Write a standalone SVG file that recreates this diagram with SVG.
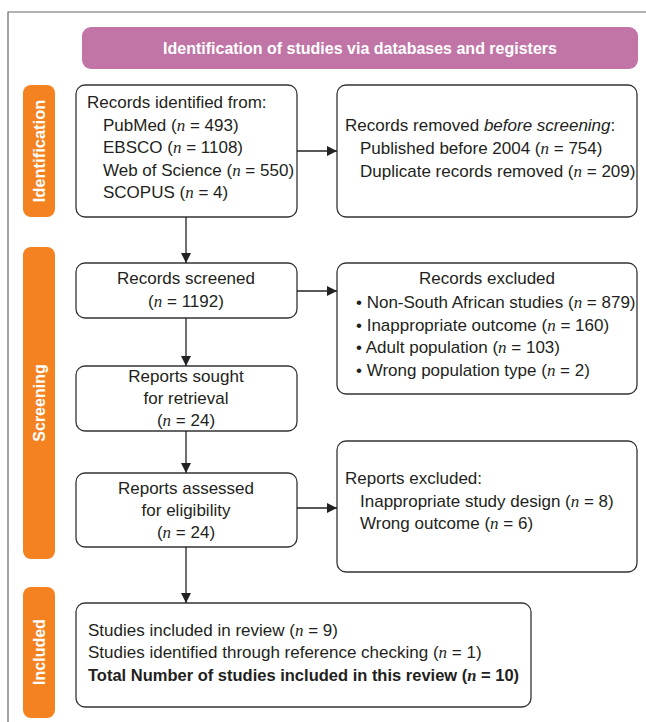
<svg xmlns="http://www.w3.org/2000/svg" width="646" height="722" viewBox="0 0 646 722">
<defs>
<style>
.t{font-family:"Liberation Sans",Arial,sans-serif;font-size:17px;fill:#231f20}
.n{font-family:"Liberation Serif","Times New Roman",serif;font-style:italic}
.box{fill:#fff;stroke:#333;stroke-width:1.3}
.tab{fill:#f58220}
.tabt{font-family:"Liberation Sans",Arial,sans-serif;font-size:16px;font-weight:bold;fill:#fff}
.ln{stroke:#222;stroke-width:1.3;fill:none}
.c{text-anchor:middle}
</style>
<marker id="ah" viewBox="0 0 10 10" refX="10" refY="5" markerWidth="10" markerHeight="10" markerUnits="userSpaceOnUse" orient="auto">
<path d="M0,0 L10,5 L0,10 Z" fill="#222"/>
</marker>
</defs>
<rect width="646" height="722" fill="#fff"/>
<g id="frame">
<path d="M8,722 L8,12 L646,12" stroke="#666" stroke-width="1.2" fill="none"/>
</g>
<g id="banner">
<rect x="82" y="27" width="556" height="42" rx="9" fill="#c075a6"/>
<text x="360" y="54" class="c" style="font-family:'Liberation Sans',Arial,sans-serif;font-size:16px;font-weight:bold;fill:#fff">Identification of studies via databases and registers</text>
</g>
<g id="tab-identification">
<rect class="tab" x="23" y="85" width="32" height="132" rx="8"/>
<text class="tabt c" transform="translate(45,151) rotate(-90)" style="font-size:16.5px">Identification</text>
</g>
<g id="tab-screening">
<rect class="tab" x="23" y="247" width="32" height="312" rx="8"/>
<text class="tabt c" transform="translate(45,403) rotate(-90)">Screening</text>
</g>
<g id="tab-included">
<rect class="tab" x="23" y="587" width="32" height="131" rx="8"/>
<text class="tabt c" transform="translate(45,652) rotate(-90)">Included</text>
</g>
<g id="records-identified">
<rect class="box" x="76" y="85" width="221" height="132" rx="9"/>
<text class="t" x="87" y="108">Records identified from:</text>
<text class="t" x="103" y="131">PubMed (<tspan class="n">n</tspan> = 493)</text>
<text class="t" x="103" y="153">EBSCO (<tspan class="n">n</tspan> = 1108)</text>
<text class="t" x="103" y="176">Web of Science (<tspan class="n">n</tspan> = 550)</text>
<text class="t" x="103" y="198">SCOPUS (<tspan class="n">n</tspan> = 4)</text>
</g>
<g id="records-removed">
<rect class="box" x="337" y="85" width="300" height="132" rx="9"/>
<text class="t" x="345" y="131">Records removed <tspan font-style="italic">before screening</tspan>:</text>
<text class="t" x="360" y="154">Published before 2004 (<tspan class="n">n</tspan> = 754)</text>
<text class="t" x="360" y="177">Duplicate records removed (<tspan class="n">n</tspan> = 209)</text>
</g>
<g id="records-screened">
<rect class="box" x="76" y="263" width="221" height="55" rx="9"/>
<text class="t c" x="186" y="284">Records screened</text>
<text class="t c" x="186" y="307">(<tspan class="n">n</tspan> = 1192)</text>
</g>
<g id="records-excluded">
<rect class="box" x="337" y="263" width="300" height="131" rx="9"/>
<text class="t c" x="487" y="284">Records excluded</text>
<text class="t" x="356" y="308">• Non-South African studies (<tspan class="n">n</tspan> = 879)</text>
<text class="t" x="356" y="331">• Inappropriate outcome (<tspan class="n">n</tspan> = 160)</text>
<text class="t" x="356" y="353">• Adult population (<tspan class="n">n</tspan> = 103)</text>
<text class="t" x="356" y="376">• Wrong population type (<tspan class="n">n</tspan> = 2)</text>
</g>
<g id="reports-sought">
<rect class="box" x="76" y="366" width="221" height="65" rx="9"/>
<text class="t c" x="186" y="382">Reports sought</text>
<text class="t c" x="186" y="404">for retrieval</text>
<text class="t c" x="186" y="426">(<tspan class="n">n</tspan> = 24)</text>
</g>
<g id="reports-assessed">
<rect class="box" x="76" y="473" width="221" height="74" rx="9"/>
<text class="t c" x="186" y="494">Reports assessed</text>
<text class="t c" x="186" y="516">for eligibility</text>
<text class="t c" x="186" y="538">(<tspan class="n">n</tspan> = 24)</text>
</g>
<g id="reports-excluded">
<rect class="box" x="337" y="441" width="300" height="131" rx="9"/>
<text class="t" x="345" y="484">Reports excluded:</text>
<text class="t" x="360" y="507">Inappropriate study design (<tspan class="n">n</tspan> = 8)</text>
<text class="t" x="360" y="529">Wrong outcome (<tspan class="n">n</tspan> = 6)</text>
</g>
<g id="included">
<rect class="box" x="76" y="603" width="455" height="104" rx="9"/>
<text class="t" x="88" y="636">Studies included in review (<tspan class="n">n</tspan> = 9)</text>
<text class="t" x="88" y="658">Studies identified through reference checking (<tspan class="n">n</tspan> = 1)</text>
<text class="t" x="88" y="681" font-weight="bold" style="font-size:16.5px">Total Number of studies included in this review (<tspan class="n">n</tspan> = 10)</text>
</g>
<g id="connectors">
<line class="ln" x1="297" y1="151" x2="337" y2="151" marker-end="url(#ah)"/>
<line class="ln" x1="297" y1="291" x2="337" y2="291" marker-end="url(#ah)"/>
<line class="ln" x1="297" y1="508" x2="337" y2="508" marker-end="url(#ah)"/>
<line class="ln" x1="186" y1="217" x2="186" y2="263" marker-end="url(#ah)"/>
<line class="ln" x1="186" y1="318" x2="186" y2="366" marker-end="url(#ah)"/>
<line class="ln" x1="186" y1="431" x2="186" y2="473" marker-end="url(#ah)"/>
<line class="ln" x1="186" y1="547" x2="186" y2="603" marker-end="url(#ah)"/>
</g>
</svg>
